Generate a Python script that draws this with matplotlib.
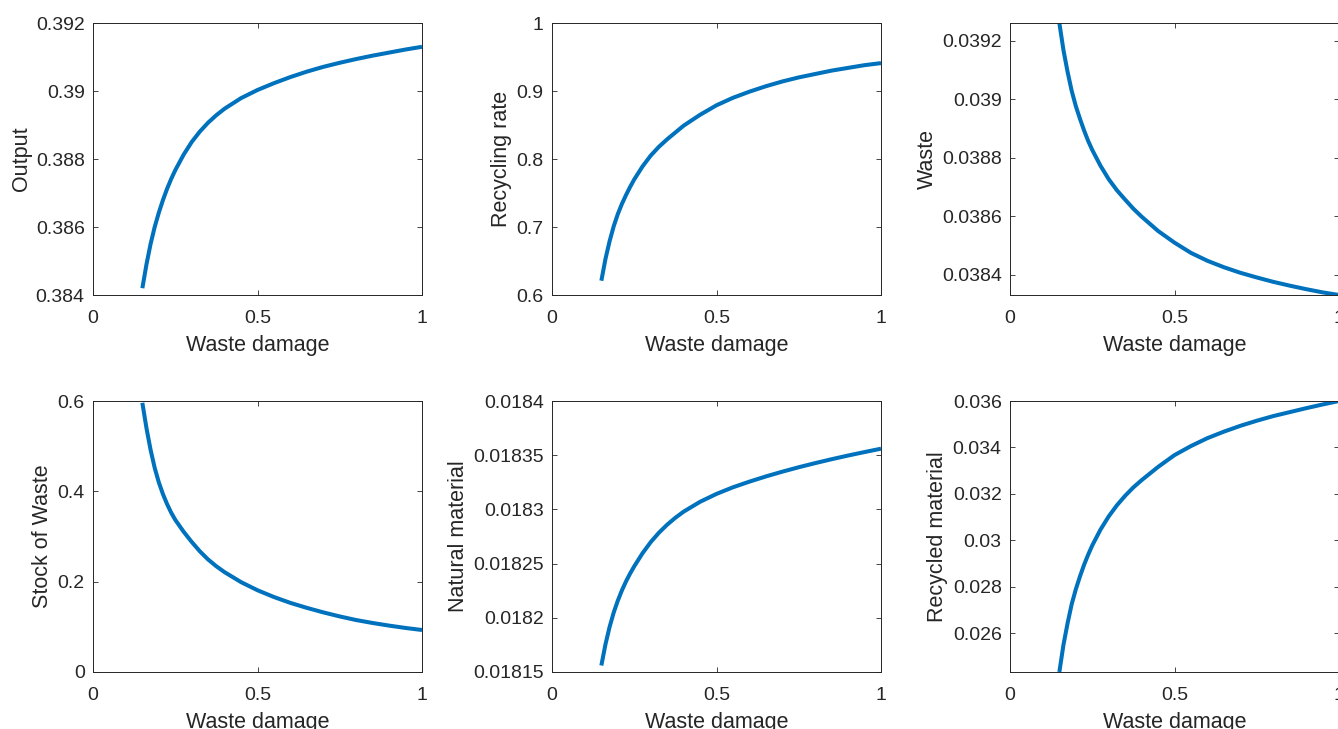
import numpy as np
import matplotlib
matplotlib.use('Agg')
import matplotlib.pyplot as plt
from matplotlib.ticker import FuncFormatter

# данные
waste_damage = [0.15, 0.1625, 0.175, 0.1875, 0.2, 0.2125, 0.225, 0.2375, 0.25,
                0.275, 0.3, 0.325, 0.35, 0.375, 0.4, 0.45, 0.5, 0.55,
                0.6, 0.65, 0.7, 0.75, 0.8, 0.85, 0.9, 0.95, 1.0]

output = [0.38420, 0.38490, 0.38550, 0.38600, 0.38642, 0.38679, 0.38712, 0.38741, 0.38767,
          0.38812, 0.38850, 0.38881, 0.38907, 0.38929, 0.38948, 0.38979, 0.39003, 0.39023,
          0.39041, 0.39057, 0.39071, 0.39083, 0.39094, 0.39104, 0.39113, 0.39122, 0.39130]
recycling_rate = [0.621, 0.653, 0.679, 0.701, 0.719, 0.734, 0.747, 0.759, 0.770,
                  0.789, 0.805, 0.818, 0.829, 0.839, 0.849, 0.865, 0.879, 0.890,
                  0.899, 0.907, 0.914, 0.920, 0.925, 0.930, 0.934, 0.938, 0.941]
waste = [0.039260, 0.039167, 0.039093, 0.039028, 0.038976, 0.038933, 0.038893, 0.038857, 0.038826,
         0.038772, 0.038726, 0.038688, 0.038656, 0.038625, 0.038598, 0.038549, 0.038509, 0.038474,
         0.038447, 0.038425, 0.038406, 0.038390, 0.038375, 0.038362, 0.038350, 0.038339, 0.038330]
stock_of_waste = [0.596, 0.540, 0.492, 0.452, 0.420, 0.394, 0.372, 0.353, 0.337,
                  0.311, 0.288, 0.267, 0.249, 0.234, 0.221, 0.199, 0.181, 0.166,
                  0.153, 0.142, 0.132, 0.123, 0.115, 0.1085, 0.1027, 0.0975, 0.093]
natural_material = [0.0181560, 0.0181755, 0.0181915, 0.0182048, 0.0182158, 0.0182253, 0.0182336, 0.0182409, 0.0182475,
                    0.0182595, 0.0182698, 0.0182785, 0.0182859, 0.0182923, 0.0182979, 0.0183070, 0.0183143, 0.0183204,
                    0.0183256, 0.0183304, 0.0183348, 0.0183389, 0.0183427, 0.0183463, 0.0183497, 0.0183529, 0.0183560]
recycled_material = [0.02433, 0.02550, 0.02643, 0.02725, 0.02789, 0.02844, 0.02894, 0.02938, 0.02978,
                     0.03046, 0.03103, 0.03151, 0.03192, 0.03228, 0.03259, 0.03316, 0.03367, 0.03406,
                     0.03440, 0.03468, 0.03493, 0.03515, 0.03535, 0.03552, 0.03569, 0.03585, 0.03600]

series = [output, recycling_rate, waste, stock_of_waste, natural_material, recycled_material]
ylabels = ['Output', 'Recycling rate', 'Waste', 'Stock of Waste', 'Natural material', 'Recycled material']
xlabel = 'Waste damage'

yticks = [
    [0.384, 0.386, 0.388, 0.39, 0.392],
    [0.6, 0.7, 0.8, 0.9, 1.0],
    [0.0384, 0.0386, 0.0388, 0.039, 0.0392],
    [0, 0.2, 0.4, 0.6],
    [0.01815, 0.0182, 0.01825, 0.0183, 0.01835, 0.0184],
    [0.026, 0.028, 0.03, 0.032, 0.034, 0.036],
]
# None - по данным (axis tight)
ylims = [(0.384, 0.392), (0.6, 1.0), None, (0, 0.6), (0.01815, 0.0184), None]

# настраиваем отрисовку
plt.rcParams['font.family'] = ['Liberation Sans', 'DejaVu Sans']
dark = '#262626'
W, H = 1338, 729
fig = plt.figure(figsize=(W / 100, H / 100), dpi=100)

lefts = [93, 552, 1010]
rows = [(23, 295), (401, 672)]
aw = 329

fmt = FuncFormatter(lambda v, p: '%g' % v)

for i in range(6):
    r, c = divmod(i, 3)
    top, bot = rows[r]
    ax = fig.add_axes([lefts[c] / W, 1 - bot / H, aw / W, (bot - top) / H])
    ax.plot(waste_damage, series[i], color='#0072BD', linewidth=2.9,
            solid_joinstyle='round', solid_capstyle='butt')
    ax.set_xlim(0, 1)
    ax.set_xticks([0, 0.5, 1])
    ax.set_yticks(yticks[i])
    if ylims[i] is None:
        ax.set_ylim(min(series[i]), max(series[i]))
    else:
        ax.set_ylim(*ylims[i])
    ax.xaxis.set_major_formatter(fmt)
    ax.yaxis.set_major_formatter(fmt)
    ax.tick_params(direction='in', top=True, right=True, length=3.5, width=0.6,
                   labelsize=14, colors=dark, pad=6)
    ax.tick_params(axis='x', pad=11)
    for s in ax.spines.values():
        s.set_color(dark)
        s.set_linewidth(0.7)
    ax.set_xlabel(xlabel, fontsize=15.5, color=dark, labelpad=5.5)
    ax.set_ylabel(ylabels[i], fontsize=15.5, color=dark, labelpad=3)

plt.savefig('out.png', dpi=100)
